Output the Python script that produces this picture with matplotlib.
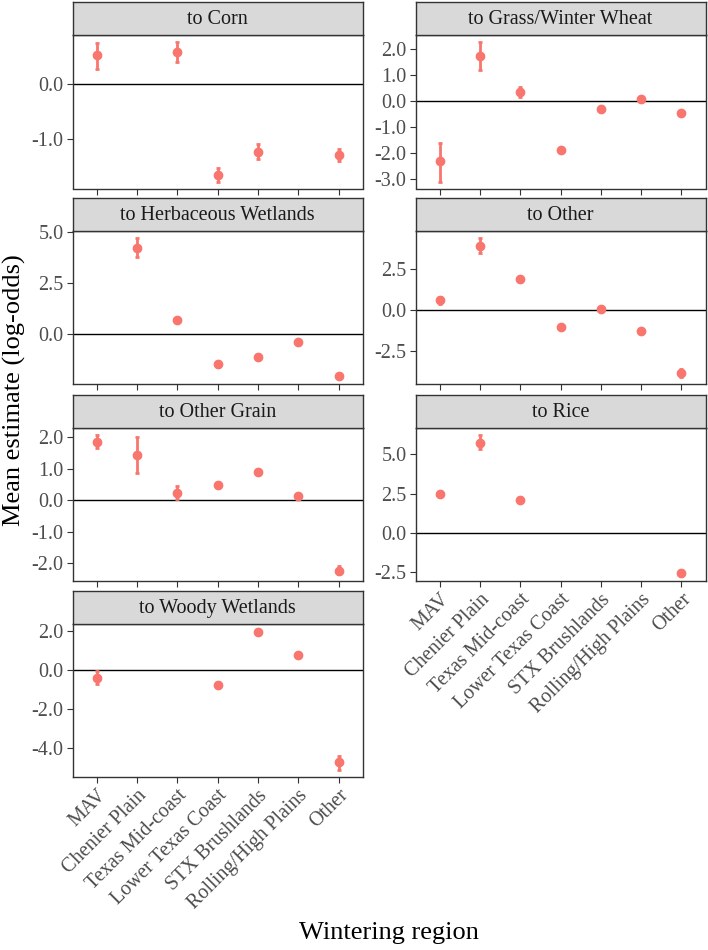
import numpy as np
import matplotlib
matplotlib.use("Agg")
import matplotlib.pyplot as plt

plt.rcParams['font.family'] = ['Liberation Serif', 'DejaVu Serif']
plt.rcParams['axes.unicode_minus'] = False

nan = np.nan
regions = ["MAV", "Chenier Plain", "Texas Mid-coast", "Lower Texas Coast",
           "STX Brushlands", "Rolling/High Plains", "Other"]

corn_mean = [0.54, nan, 0.60, -1.66, -1.23, nan, -1.29]
corn_lo = [0.29, nan, 0.42, -1.78, -1.36, nan, -1.41]
corn_hi = [0.77, nan, 0.78, -1.54, -1.09, nan, -1.18]
corn_ticks = [0.0, -1.0]

grass_mean = [-2.30, 1.74, 0.37, -1.88, -0.31, 0.09, -0.46]
grass_lo = [-3.10, 1.21, 0.15, -1.95, -0.36, 0.04, -0.51]
grass_hi = [-1.60, 2.29, 0.56, -1.81, -0.26, 0.14, -0.41]
grass_ticks = [2.0, 1.0, 0.0, -1.0, -2.0, -3.0]

herb_mean = [nan, 4.20, 0.70, -1.50, -1.12, -0.38, -2.05]
herb_lo = [nan, 3.78, 0.64, -1.56, -1.18, -0.44, -2.12]
herb_hi = [nan, 4.69, 0.76, -1.44, -1.06, -0.32, -1.98]
herb_ticks = [5.0, 2.5, 0.0]

other_mean = [0.58, 3.91, 1.91, -1.05, 0.06, -1.29, -3.87]
other_lo = [0.36, 3.45, 1.83, -1.12, -0.02, -1.37, -4.10]
other_hi = [0.80, 4.36, 1.99, -0.98, 0.14, -1.21, -3.59]
other_ticks = [2.5, 0.0, -2.5]

grain_mean = [1.87, 1.44, 0.22, 0.48, 0.91, 0.13, -2.23]
grain_lo = [1.68, 0.88, 0.04, 0.42, 0.85, 0.07, -2.34]
grain_hi = [2.08, 2.03, 0.45, 0.54, 0.97, 0.19, -2.10]
grain_ticks = [2.0, 1.0, 0.0, -1.0, -2.0]

rice_mean = [2.44, 5.76, 2.10, nan, nan, nan, -2.57]
rice_lo = [2.36, 5.33, 2.02, nan, nan, nan, -2.65]
rice_hi = [2.52, 6.25, 2.18, nan, nan, nan, -2.49]
rice_ticks = [5.0, 2.5, 0.0, -2.5]

woody_mean = [-0.42, nan, nan, -0.79, 1.92, 0.76, -4.75]
woody_lo = [-0.76, nan, nan, -0.85, 1.86, 0.70, -5.14]
woody_hi = [-0.08, nan, nan, -0.73, 1.98, 0.82, -4.41]
woody_ticks = [2.0, 0.0, -2.0, -4.0]

panels = [
    ("to Corn", corn_mean, corn_lo, corn_hi, corn_ticks),
    ("to Grass/Winter Wheat", grass_mean, grass_lo, grass_hi, grass_ticks),
    ("to Herbaceous Wetlands", herb_mean, herb_lo, herb_hi, herb_ticks),
    ("to Other", other_mean, other_lo, other_hi, other_ticks),
    ("to Other Grain", grain_mean, grain_lo, grain_hi, grain_ticks),
    ("to Rice", rice_mean, rice_lo, rice_hi, rice_ticks),
    ("to Woody Wetlands", woody_mean, woody_lo, woody_hi, woody_ticks),
]

W, H = 708, 950
fig = plt.figure(figsize=(W / 100, H / 100), dpi=100)

cols = [(72.5, 363.0), (415.5, 705.5)]
rows = [(35.0, 188.5), (231.5, 384.0), (428.0, 581.0), (624.0, 777.0)]
strip_h = 33.0

COL = "#F8766D"
EDGE = "#333333"
TXT = "#4D4D4D"
FS = 14.5


def box(x0, top, x1, bottom):
    return [x0 / W, 1 - bottom / H, (x1 - x0) / W, (bottom - top) / H]


# bottom panel per column gets x labels
bottom_idx = {0: 6, 1: 5}

for i, (title, m, lo, hi, ticks) in enumerate(panels):
    c = i % 2
    r = i // 2
    x0, x1 = cols[c]
    top, bottom = rows[r]
    ax = fig.add_axes(box(x0, top, x1, bottom))
    xs = np.arange(len(regions))
    m = np.array(m, float)
    lo = np.array(lo, float)
    hi = np.array(hi, float)
    ok = ~np.isnan(m)
    ax.axhline(0, color="black", lw=1.0, zorder=1)
    ax.errorbar(xs[ok], m[ok], yerr=[m[ok] - lo[ok], hi[ok] - m[ok]],
                fmt="o", color=COL, ms=6.0, elinewidth=2.0, capsize=1.6,
                capthick=2.0, zorder=3)
    vmin = np.nanmin(lo)
    vmax = np.nanmax(hi)
    rng = vmax - vmin
    ax.set_ylim(vmin - 0.05 * rng, vmax + 0.05 * rng)
    ax.set_xlim(-0.6, len(regions) - 0.4)
    ax.set_yticks(ticks)
    ax.set_yticklabels([f"{t:.1f}" for t in ticks])
    ax.set_xticks(xs)
    if i == bottom_idx[c]:
        ax.set_xticklabels(regions, rotation=45, ha="right", va="top",
                           rotation_mode="anchor")
    else:
        ax.set_xticklabels([])
        ax.tick_params(axis="x", length=0)
    ax.tick_params(axis="both", colors=EDGE, labelcolor=TXT, labelsize=FS,
                   length=4, width=0.8, pad=2.5)
    if i == bottom_idx[c]:
        ax.tick_params(axis="x", length=4)
    for s in ax.spines.values():
        s.set_color(EDGE)
        s.set_linewidth(1.0)
    # strip
    sax = fig.add_axes(box(x0, top - strip_h, x1, top))
    sax.set_facecolor("#D9D9D9")
    sax.set_xticks([])
    sax.set_yticks([])
    for s in sax.spines.values():
        s.set_color(EDGE)
        s.set_linewidth(1.0)
    sax.text(0.5, 0.47, title, ha="center", va="center", fontsize=FS,
             color="#1A1A1A", transform=sax.transAxes)

fig.text(14 / W, 1 - 390 / H, "Mean estimate (log-odds)", rotation=90,
         ha="center", va="center", fontsize=19, color="black")
fig.text(389 / W, 1 - 933 / H, "Wintering region", ha="center",
         va="center", fontsize=19, color="black")

fig.savefig("out.png", dpi=100)
